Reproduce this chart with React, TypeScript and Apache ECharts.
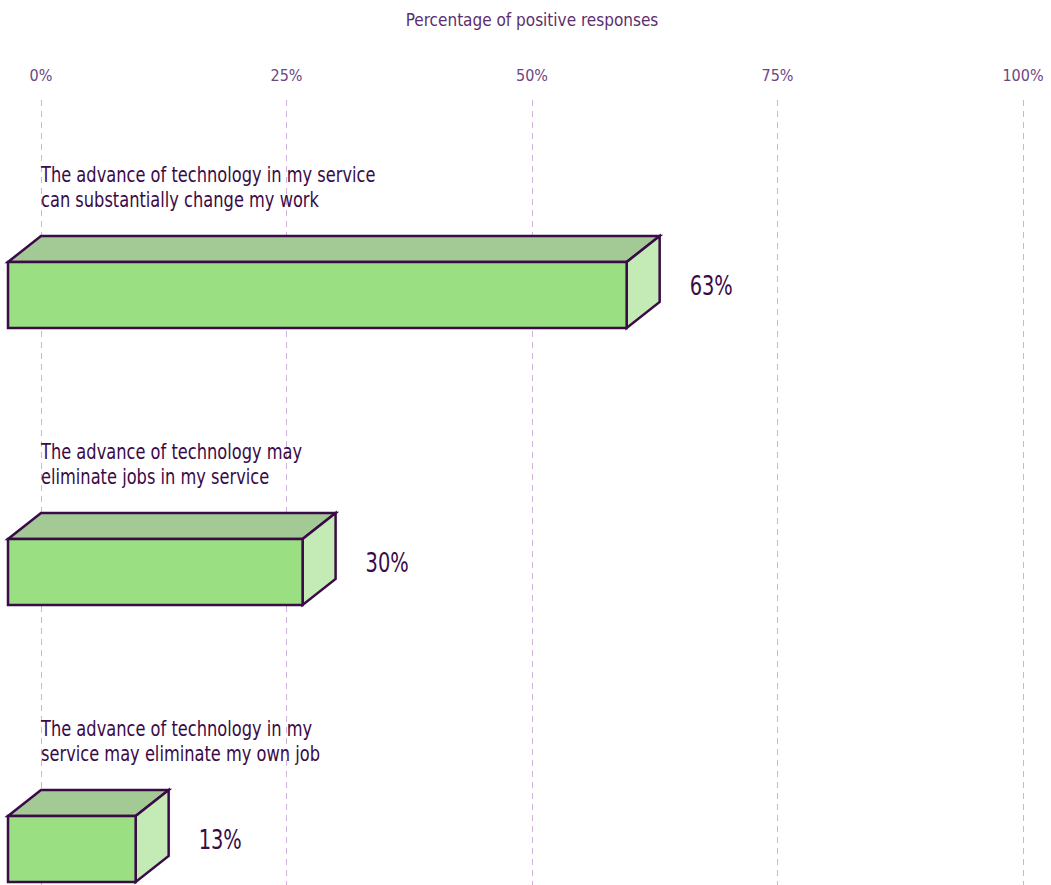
import React, { useEffect, useRef } from "react";
import * as echarts from "echarts";

const categories = [
  "The advance of technology in my service\ncan substantially change my work",
  "The advance of technology may\neliminate jobs in my service",
  "The advance of technology in my\nservice may eliminate my own job",
];
const values = [63, 30, 13];
const xTicks = [0, 25, 50, 75, 100];
const axisTitle = "Percentage of positive responses";

const FONT = "'DejaVu Sans Condensed', 'Liberation Sans Narrow', sans-serif";
const DARK = "#3a0b47";

export default function App() {
  const ref = useRef<HTMLDivElement>(null);
  useEffect(() => {
    if (!ref.current) return;
    const chart = echarts.init(ref.current, undefined, { renderer: "svg" });
    const DX = 33;
    const DY = 26;
    const H = 66;
    const option: any = {
      animation: false,
      grid: { left: 41, right: 28, top: 100, bottom: 0 },
      xAxis: {
        type: "value",
        position: "top",
        min: xTicks[0],
        max: xTicks[xTicks.length - 1],
        interval: 25,
        name: axisTitle,
        nameLocation: "middle",
        nameGap: 72,
        nameTextStyle: { color: "#5b2d6d", fontSize: 17, fontFamily: FONT },
        axisLine: { show: false },
        axisTick: { show: false },
        axisLabel: {
          color: "#6e4683",
          fontSize: 16,
          fontFamily: FONT,
          margin: 17,
          formatter: (v: number) => v + "%",
        },
        splitLine: { show: true, lineStyle: { color: "#cfb2d9", type: [6, 5], width: 1 } },
      },
      yAxis: { type: "value", inverse: true, min: -0.704, max: 2.13, show: false },
      series: [
        {
          type: "custom",
          clip: false,
          data: values.map((v, i) => [v, i]),
          renderItem: (params: any, api: any) => {
            const v = api.value(0);
            const i = api.value(1);
            const p0 = api.coord([0, i]);
            const p1 = api.coord([v, i]);
            const fx0 = p0[0] - DX;
            const fx1 = p1[0] - DX;
            const cy = p0[1];
            const ft = cy - H / 2;
            const fb = cy + H / 2;
            const stroke = { stroke: DARK, lineWidth: 2.5, lineJoin: "miter" };
            return {
              type: "group",
              children: [
                {
                  type: "polygon",
                  shape: { points: [[fx0, ft], [fx0 + DX, ft - DY], [fx1 + DX, ft - DY], [fx1, ft]] },
                  style: { fill: "#a3c995", ...stroke },
                },
                {
                  type: "polygon",
                  shape: { points: [[fx1, ft], [fx1 + DX, ft - DY], [fx1 + DX, fb - DY], [fx1, fb]] },
                  style: { fill: "#c4ebb6", ...stroke },
                },
                {
                  type: "rect",
                  shape: { x: fx0, y: ft, width: fx1 - fx0, height: H },
                  style: { fill: "#9adf82", ...stroke },
                },
                {
                  type: "text",
                  x: p1[0] + 30,
                  y: cy - 9,
                  scaleX: 0.8,
                  style: {
                    x: 0,
                    y: 0,
                    text: v + "%",
                    fill: DARK,
                    font: `27px ${FONT}`,
                    verticalAlign: "middle",
                    align: "left",
                  },
                },
                {
                  type: "text",
                  x: p0[0],
                  y: ft - 49,
                  scaleX: 0.86,
                  style: {
                    x: 0,
                    y: 0,
                    text: categories[i],
                    fill: DARK,
                    font: `21px ${FONT}`,
                    lineHeight: 25,
                    verticalAlign: "bottom",
                    align: "left",
                  },
                },
              ],
            };
          },
        },
      ],
    };
    chart.setOption(option);
    return () => chart.dispose();
  }, []);
  return (
    <div
      ref={ref}
      style={{ position: "absolute", left: 0, top: 0, width: 1051, height: 885 }}
    />
  );
}
